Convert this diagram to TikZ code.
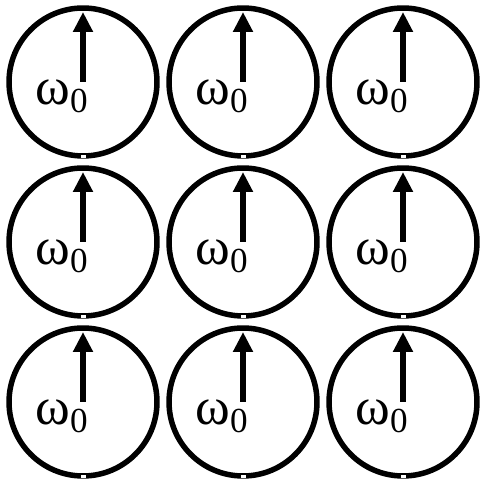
\documentclass[tikz,border=0pt]{standalone}
\usepackage{fontspec}
\setmainfont{Liberation Serif}
\usetikzlibrary{arrows.meta}

\tikzset{
  cell/.style={circle, draw, line width=0.11cm, minimum size=2.96cm, inner sep=0pt},
  spin/.style={-{Triangle[length=0.4cm,width=0.38cm]}, line width=0.13cm},
  freq/.style={anchor=base west, inner sep=0pt, font=\fontsize{30}{32}\selectfont},
}

\begin{document}
\begin{tikzpicture}[x=0.02cm,y=0.02cm]
\useasboundingbox (0,0) rectangle (481,486);

\foreach \col/\x in {1/83,2/243,3/403}
  \foreach \row/\y in {1/404,2/244,3/84} {
    \node[cell] (c\row\col) at (\x,\y) {};
    \fill[white] (c\row\col.south) ++(-2.5,0.5) rectangle ++(5,3.5);
    \draw[spin] (c\row\col.center) -- ++(0,70);
    \node[freq] (w\row\col) at (\x-48,\y-23) {ω\raisebox{-0.16cm}{\fontsize{20}{22}\selectfont 0}};
  }
\end{tikzpicture}
\end{document}
